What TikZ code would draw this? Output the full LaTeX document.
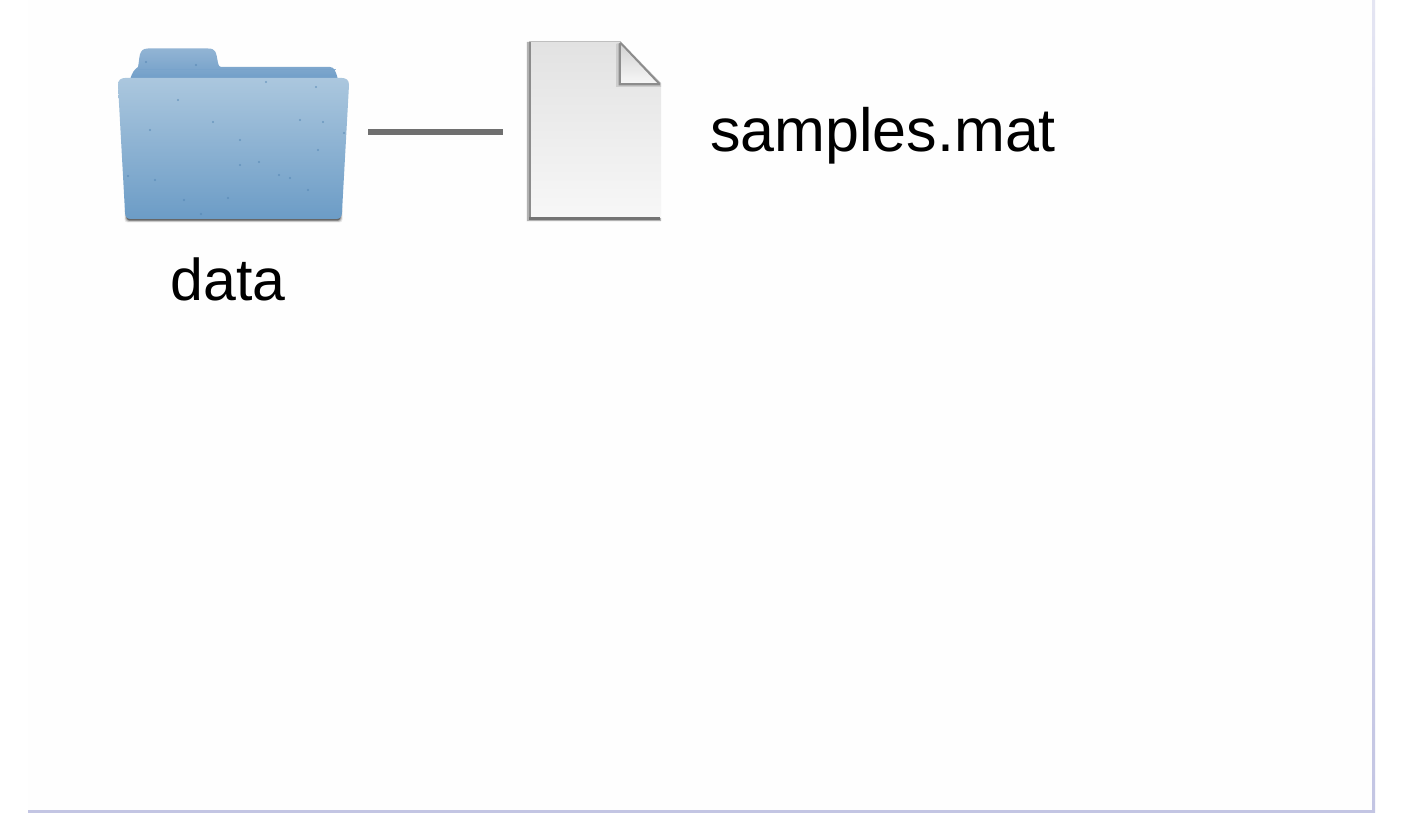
\documentclass[tikz,border=0pt]{standalone}
\usepackage{fontspec}
\setmainfont{Liberation Sans}
\definecolor{linkgray}{HTML}{6F6F6F}
\definecolor{speckblue}{HTML}{4F82B0}
\definecolor{frameblue}{HTML}{C3C5E3}
\definecolor{pagebg}{HTML}{FEFEFE}
\tikzset{
  label text/.style={text=black, inner sep=0pt, anchor=base},
  anchor box/.style={inner sep=0pt, outer sep=0pt, draw=none, fill=none},
  link/.style={line width=6pt, draw=linkgray},
  speck/.style={fill=speckblue, opacity=.6},
}
\begin{document}
\begin{tikzpicture}[x=1pt,y=-1pt]
\useasboundingbox (0,0) rectangle (1403,813);
\fill[white] (0,0) rectangle (1403,813);
\fill[pagebg] (28,0) rectangle (1372,810);
% frame
\shade[top color=frameblue!45!white, bottom color=frameblue] (1372,0) rectangle (1375,813);
\fill[frameblue] (28,810) rectangle (1375,812.5);
% folder shadow
\foreach \g/\o in {2.5/.10,1.8/.18,1/.3,0.4/.5}{
  \fill[black!80,opacity=\o,rounded corners=3pt] (127-\g,205) rectangle (340+\g,220+\g);
}
% folder back and tab
\shade[top color={rgb,255:red,146;green,180;blue,212}, bottom color={rgb,255:red,112;green,158;blue,200}]
  (130,80) .. controls (132,72) and (135,69) .. (138,67)
  .. controls (140,58) and (138,48.5) .. (148,48.5)
  -- (208,48.5) .. controls (216,48.5) and (216,52) .. (218,63)
  .. controls (219,67) and (220,67) .. (224,67)
  -- (330,67) .. controls (334,67) and (336,71) .. (338,80) -- cycle;
\draw[line width=1pt, draw={rgb,255:red,120;green,163;blue,203}, opacity=.8] (138,70) -- (336,70);
% folder front
\shade[shading angle=12, top color={rgb,255:red,171;green,199;blue,222}, bottom color={rgb,255:red,108;green,156;blue,198}]
  (118,85) .. controls (118,80) and (121,78) .. (125,78)
  -- (342,78) .. controls (346,78) and (349,80) .. (349,85)
  -- (342,212) .. controls (342,217) and (340,219) .. (336,219)
  -- (131,219) .. controls (127,219) and (125,217) .. (125,212) -- cycle;
% specks
\foreach \x/\y in {146/62,196/65,266/82,316/87,178/100,213/122,323/122,344/133,259/162,240/165,279/175,228/198,201/214,128/176,155/180,318/150,290/178,308/190,184/200,240/140,150/130,300/120}{
  \fill[speck] (\x,\y) circle (1.1);
}
% file
\foreach \g/\o in {1.5/.12,0.8/.2}{
  \fill[black,opacity=\o] (528-\g,42) -- (531,42) -- (531,218) -- (661,218) -- (661,220+\g) -- (528-\g,220+\g) -- cycle;
}
\shade[shading angle=-15, top color={rgb,255:red,226;green,226;blue,226}, bottom color={rgb,255:red,247;green,247;blue,247}]
  (530,42) -- (621,42) -- (661,84) -- (661,218) -- (530,218) -- cycle;
\fill[black!45] (528.5,42) rectangle (531,220);
\fill[black!55] (528.5,217.5) rectangle (660,220);
\fill[black!25] (529,41) rectangle (621,42.5);
% fold
\fill[black!20] (616,44) -- (616,87) -- (661,87) -- (661,83) -- (621,42) -- cycle;
\fill[black!45] (618.5,44) -- (618.5,85.5) -- (660,85.5) -- (660,83) -- (621,42) -- cycle;
\shade[shading angle=-30, top color={rgb,255:red,212;green,212;blue,212}, bottom color={rgb,255:red,246;green,246;blue,246}]
  (621,45) -- (621,83) -- (657,83) -- cycle;
% invisible anchors
\node[anchor box, minimum width=231pt, minimum height=176pt] (folder) at (233.5,132) {};
\node[anchor box, minimum width=133pt, minimum height=176pt] (file) at (594.5,132) {};
\draw[link, shorten <=19pt, shorten >=25pt] (folder.east) -- (file.west);
% labels
\node[label text, font=\fontsize{59}{59}\selectfont] (datalabel) at (228,300) {data};
\node[label text, anchor=base west, font=\fontsize{61}{61}\selectfont] (matlabel) at (710,152) {samples.mat};
\end{tikzpicture}
\end{document}
